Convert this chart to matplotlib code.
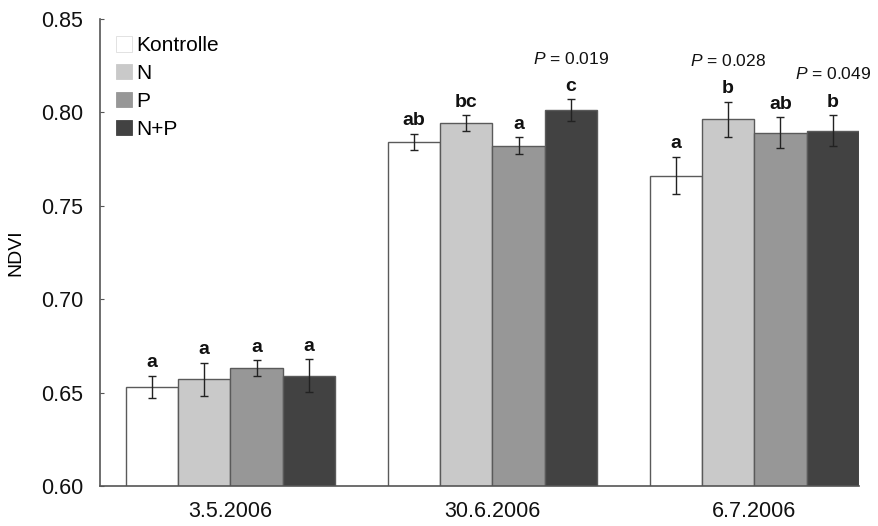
import numpy as np
import matplotlib
matplotlib.use("Agg")
import matplotlib.pyplot as plt
from matplotlib.patches import Patch

plt.rcParams['font.family'] = ['Liberation Sans', 'DejaVu Sans']
plt.rcParams['mathtext.fontset'] = 'custom'
plt.rcParams['mathtext.it'] = 'Liberation Sans:italic'
plt.rcParams['mathtext.rm'] = 'Liberation Sans'

# NDVI means and standard errors per sampling date and treatment
dates = ['3.5.2006', '30.6.2006', '6.7.2006']
treatments = ['Kontrolle', 'N', 'P', 'N+P']
ndvi = {
    'Kontrolle': [0.653, 0.784, 0.766],
    'N':         [0.657, 0.794, 0.796],
    'P':         [0.663, 0.782, 0.789],
    'N+P':       [0.659, 0.801, 0.790],
}
sem = {
    'Kontrolle': [0.0058, 0.0045, 0.0100],
    'N':         [0.0087, 0.0042, 0.0094],
    'P':         [0.0042, 0.0045, 0.0081],
    'N+P':       [0.0087, 0.0057, 0.0082],
}
letters = {
    'Kontrolle': ['a', 'ab', 'a'],
    'N':         ['a', 'bc', 'b'],
    'P':         ['a', 'a', 'ab'],
    'N+P':       ['a', 'c', 'b'],
}
# significant contrasts: (date index, treatment, p-value)
p_values = [(1, 'N+P', '0.019'), (2, 'N', '0.028'), (2, 'N+P', '0.049')]

colors = {'Kontrolle': '#ffffff', 'N': '#c9c9c9', 'P': '#979797', 'N+P': '#424242'}
width = 0.2

fig = plt.figure(figsize=(8.79, 5.26), dpi=100)
ax = fig.add_axes([0.1138, 0.076, 0.8635, 0.8888])

x = np.arange(len(dates))
for i, t in enumerate(treatments):
    pos = x + (i - 1.5) * width
    ax.bar(pos, ndvi[t], width, color=colors[t], edgecolor='#5a5a5a', linewidth=1.0, zorder=2)
    ax.errorbar(pos, ndvi[t], yerr=sem[t], fmt='none', ecolor='#222222',
                elinewidth=1.0, capsize=3, capthick=1.0, zorder=3)
    for j in range(len(dates)):
        top = ndvi[t][j] + sem[t][j]
        ax.annotate(letters[t][j], (pos[j], top), xytext=(0, 9.5), textcoords='offset points',
                    ha='center', va='center', fontsize=14, fontweight='bold', color='#111111')

for j, t, p in p_values:
    i = treatments.index(t)
    xp = x[j] + (i - 1.5) * width
    top = ndvi[t][j] + sem[t][j]
    ax.annotate(r'$\it{P}$ = ' + p, (xp, top), xytext=(0, 29.5), textcoords='offset points',
                ha='center', va='center', fontsize=12.5, color='#111111')

ax.set_xlim(-0.498, 2.40)
ax.set_ylim(0.60, 0.85)
ax.set_yticks(np.arange(0.60, 0.851, 0.05))
ax.set_yticklabels([f'{v:.2f}' for v in np.arange(0.60, 0.851, 0.05)])
ax.set_xticks(x)
ax.set_xticklabels(dates)
ax.set_ylabel('NDVI', fontsize=14, labelpad=12)

for s in ['top', 'right']:
    ax.spines[s].set_visible(False)
for s in ['left', 'bottom']:
    ax.spines[s].set_color('#555555')
    ax.spines[s].set_linewidth(1.2)
ax.tick_params(axis='y', direction='in', length=3, width=0.8, colors='#555555',
               labelcolor='#111111', labelsize=15.5, pad=12)
ax.tick_params(axis='x', length=0, labelsize=15.5, labelcolor='#111111', pad=11)

handles = [Patch(facecolor=colors[t], edgecolor='#dddddd' if t == 'Kontrolle' else colors[t],
                 linewidth=0.6) for t in treatments]
ax.legend(handles, treatments, loc='upper left', bbox_to_anchor=(0.021, 0.962), frameon=False,
          fontsize=15, handlelength=0.75, handleheight=0.75, handletextpad=0.2,
          labelspacing=0.42, borderaxespad=0, borderpad=0)

fig.savefig('out.png', dpi=100)
